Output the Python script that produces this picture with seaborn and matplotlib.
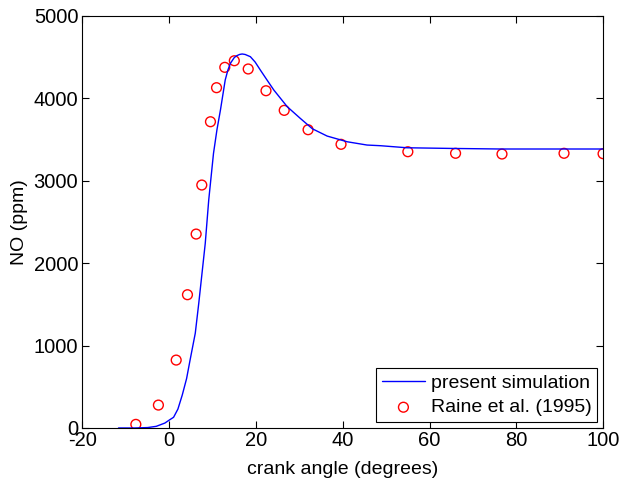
import matplotlib
matplotlib.use("Agg")
import matplotlib.pyplot as plt
import seaborn as sns
import pandas as pd

# Simulation curve
sim_angle = [-11.7, -8, -5, -3, -1, 0, 1, 2, 3, 4, 4.8, 6.0, 6.8, 8.3, 9.1, 10.2, 11.0, 11.8, 12.9,
             13.5, 14.1, 15.0, 15.6, 16.2, 16.8, 17.5, 18.7, 19.8, 21.0, 22.5, 24.1, 27.2, 30.2,
             33.0, 36.4, 41.0, 45.6, 48.7, 54.8, 65.0, 76.4, 90.0, 100.0]
sim_no = [0, 0, 5, 20, 60, 96, 130, 230, 400, 600, 824, 1150, 1512, 2240, 2766, 3332, 3620, 3858, 4222,
          4340, 4425, 4495, 4518, 4532, 4538, 4532, 4505, 4440, 4343, 4225, 4101, 3898, 3757,
          3630, 3542, 3473, 3433, 3425, 3400, 3392, 3385, 3385, 3385]

# Experimental data, Raine et al. (1995)
exp_angle = [-7.7, -2.5, 1.6, 4.2, 6.2, 7.5, 9.5, 10.9, 12.8, 15.0, 18.2, 22.3, 26.5, 32.0,
             39.6, 55.0, 66.0, 76.7, 91.0, 100.0]
exp_no = [44, 278, 824, 1617, 2353, 2948, 3716, 4129, 4376, 4456, 4356, 4092, 3854, 3619,
          3442, 3352, 3333, 3324, 3333, 3328]

sns.set_theme(style="white")
plt.rcParams['font.family'] = ['Liberation Sans', 'DejaVu Sans']
plt.rcParams['axes.unicode_minus'] = False
plt.rcParams['text.color'] = 'black'
plt.rcParams['axes.labelcolor'] = 'black'

fig = plt.figure(figsize=(6.23, 4.79), dpi=100)
ax = fig.add_axes([0.1324, 0.1065, 0.968 - 0.1324, 0.9668 - 0.1065])

sim_df = pd.DataFrame({"angle": sim_angle, "no": sim_no})
exp_df = pd.DataFrame({"angle": exp_angle, "no": exp_no})

sns.lineplot(data=sim_df, x="angle", y="no", ax=ax, color="#0000ff", linewidth=1.0,
             label="present simulation", sort=False)
sns.scatterplot(data=exp_df, x="angle", y="no", ax=ax, marker="o", s=50,
                facecolors="none", edgecolor="#ff0000", linewidth=1.0,
                label="Raine et al. (1995)")

ax.set_xlim(-20, 100)
ax.set_ylim(0, 5000)
ax.set_xticks([-20, 0, 20, 40, 60, 80, 100])
ax.set_yticks([0, 1000, 2000, 3000, 4000, 5000])
ax.set_xlabel("crank angle (degrees)", fontsize=14, labelpad=8, color="black")
ax.set_ylabel("NO (ppm)", fontsize=14, labelpad=4, color="black")

for s in ax.spines.values():
    s.set_color("black")
    s.set_linewidth(0.8)
ax.tick_params(axis="both", direction="in", length=5, width=0.8, labelsize=14.5,
               top=True, right=True, bottom=True, left=True, colors="black")
ax.tick_params(axis="x", pad=2)
ax.tick_params(axis="y", pad=3)

leg = ax.legend(loc="lower right", fontsize=14, frameon=True, fancybox=False,
                edgecolor="black", framealpha=1, handlelength=2.2, borderpad=0.3,
                labelspacing=0.35, handletextpad=0.3, borderaxespad=0.3)
leg.get_frame().set_linewidth(0.8)
for t in leg.get_texts():
    t.set_color("black")

fig.savefig("out.png", dpi=100)
